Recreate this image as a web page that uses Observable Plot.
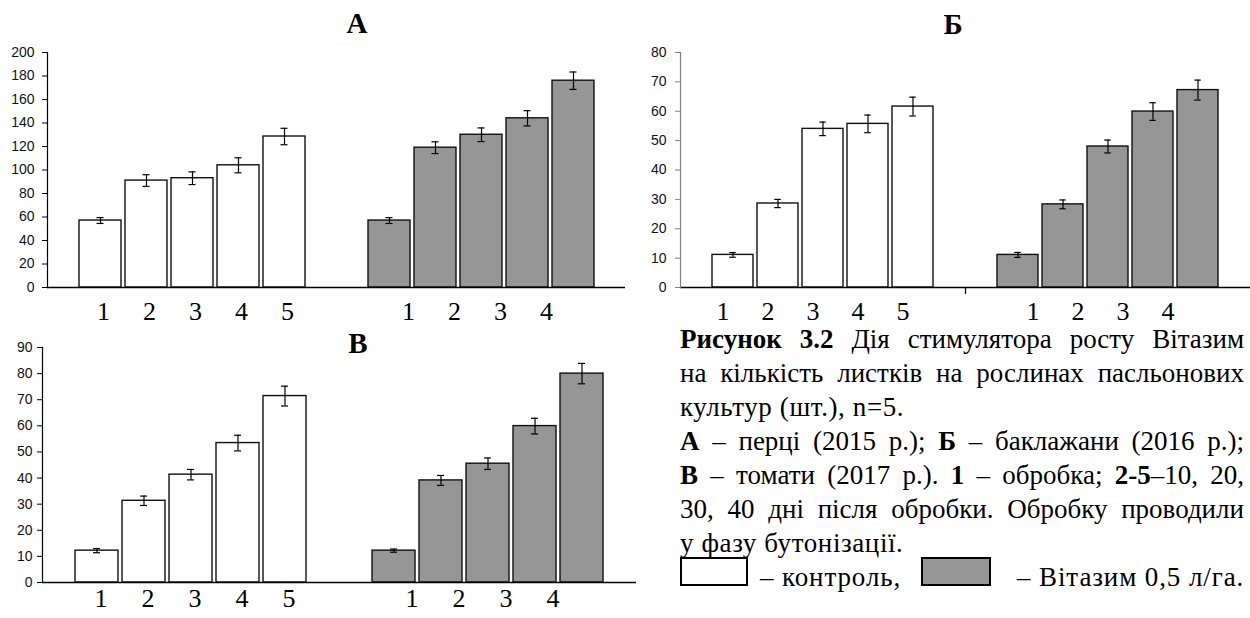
<!DOCTYPE html>
<html>
<head>
<meta charset="utf-8">
<script src="https://cdn.jsdelivr.net/npm/d3@7"></script>
<script src="https://cdn.jsdelivr.net/npm/@observablehq/plot@0.6"></script>
<style>
  html, body { margin: 0; padding: 0; background: #fff; }
  #root { position: relative; width: 1250px; height: 618px; overflow: hidden; background: #fff; }
  .panel { position: absolute; }
  .ttl { position: absolute; font-family: "Liberation Serif", "Times New Roman", serif; font-weight: bold;
         font-size: 29px; line-height: 1; transform: translate(-50%, -50%); color: #000; z-index: 5; }
  #caption { position: absolute; left: 680px; top: 322px; width: 564px; font-family: "Liberation Serif", "Times New Roman", serif;
             font-size: 27px; line-height: 34px; color: #000; z-index: 5; }
  #caption .j { text-align: justify; text-align-last: justify; white-space: nowrap; }
  #caption .l { white-space: nowrap; letter-spacing: 0.6px; }
  .leg { position: absolute; font-family: "Liberation Serif", "Times New Roman", serif; font-size: 27px; line-height: 34px;
         white-space: nowrap; color: #000; z-index: 5; letter-spacing: 0.9px; }
  .box { position: absolute; box-sizing: border-box; border: 2px solid #000; z-index: 5; }
</style>
</head>
<body>
<div id="root">
  <div id="pA" class="panel" style="left:0;top:0;"></div>
  <div id="pB" class="panel" style="left:640px;top:0;"></div>
  <div id="pV" class="panel" style="left:0;top:300px;"></div>
  <div class="ttl" style="left:357px;top:23px;">А</div>
  <div class="ttl" style="left:953px;top:24px;">Б</div>
  <div class="ttl" style="left:358px;top:343px;">В</div>
  <div id="caption">
    <div class="j"><b>Рисунок 3.2</b> Дія стимулятора росту Вітазим</div>
    <div class="j">на кількість листків на рослинах пасльонових</div>
    <div class="l">культур (шт.), n=5.</div>
    <div class="j"><b>А</b> – перці (2015 р.); <b>Б</b> – баклажани (2016 р.);</div>
    <div class="j"><b>В</b> – томати (2017 р.). <b>1</b> – обробка; <b>2-5</b>–10, 20,</div>
    <div class="j">30, 40 дні після обробки. Обробку проводили</div>
    <div class="l">у фазу бутонізації.</div>
  </div>
  <div class="box" style="left:680px;top:557px;width:68px;height:29px;background:#fff;"></div>
  <div class="leg" style="left:760px;top:560px;">– контроль,</div>
  <div class="box" style="left:921px;top:557px;width:70px;height:29px;background:#969696;"></div>
  <div class="leg" style="left:1017px;top:560px;">– Вітазим 0,5 л/га.</div>
</div>
<script>
// ---------------- data ----------------
const days = ["1", "2", "3", "4", "5"];
const groups = ["контроль", "Вітазим 0,5 л/га"];

// А – перці (2015 р.)
const pepperControl     = [57, 91, 93, 104, 128.5];
const pepperControlErr  = [2.5, 5, 5.4, 6.4, 7];
const pepperTreated     = [57, 119, 130, 144, 176];
const pepperTreatedErr  = [2.5, 5, 5.8, 6.5, 7.4];

// Б – баклажани (2016 р.)
const eggplantControl    = [11.1, 28.6, 54.0, 55.7, 61.6];
const eggplantControlErr = [0.8, 1.4, 2.3, 3.0, 3.2];
const eggplantTreated    = [11.1, 28.3, 48.0, 59.9, 67.2];
const eggplantTreatedErr = [0.85, 1.5, 2.2, 3.0, 3.4];

// В – томати (2017 р.)
const tomatoControl    = [12.2, 31.3, 41.3, 53.4, 71.4];
const tomatoControlErr = [0.8, 1.8, 2.0, 3.0, 3.8];
const tomatoTreated    = [12.2, 39.1, 45.5, 59.9, 80.0];
const tomatoTreatedErr = [0.6, 1.9, 2.2, 3.0, 3.9];

// tick labels
const ticksA = [0, 20, 40, 60, 80, 100, 120, 140, 160, 180, 200];
const ticksB = [0, 10, 20, 30, 40, 50, 60, 70, 80];
const ticksV = [0, 10, 20, 30, 40, 50, 60, 70, 80, 90];
const labelsControl = ["1", "2", "3", "4", "5"];
const labelsTreated = ["1", "2", "3", "4"];

// ---------------- build ----------------
function rows(ctrl, ctrlErr, trt, trtErr) {
  return [
    ...days.map((d, i) => ({group: groups[0], day: d, value: ctrl[i], err: ctrlErr[i]})),
    ...days.map((d, i) => ({group: groups[1], day: d, value: trt[i], err: trtErr[i]}))
  ];
}

function panel(o) {
  const data = rows(...o.series);
  const ctrlLabels = labelsControl.map(l => ({group: groups[0], day: l}));
  const trtLabels = labelsTreated.map(l => ({group: groups[1], day: l}));
  const capInset = (o.bw - 7) / 2;
  const serif = "'Liberation Serif', 'Times New Roman', serif";
  const marks = [
    Plot.barY(data, {fx: "group", x: "day", y: "value", fill: "group", stroke: "#111", strokeWidth: 1.4}),
    Plot.ruleX(data, {fx: "group", x: "day", y1: d => d.value - d.err, y2: d => d.value + d.err, stroke: "#000", strokeWidth: 1.2}),
    Plot.tickY(data, {fx: "group", x: "day", y: d => d.value - d.err, insetLeft: capInset, insetRight: capInset, stroke: "#000", strokeWidth: 1.2}),
    Plot.tickY(data, {fx: "group", x: "day", y: d => d.value + d.err, insetLeft: capInset, insetRight: capInset, stroke: "#000", strokeWidth: 1.2}),
    Plot.ruleY([0], {stroke: "#000", strokeWidth: 1.5}),
    Plot.frame({anchor: "left", facetAnchor: "left", stroke: o.axisColor, strokeWidth: 1.2}),
    Plot.axisY({ticks: o.ticks, tickSize: 5, tickPadding: o.tickPadding, label: null, stroke: o.axisColor,
                fill: "#111", fontSize: 14, tickFormat: d => String(d)}),
    Plot.text(ctrlLabels, {fx: "group", x: "day", text: "day", frameAnchor: "bottom", dy: o.labelDy, dx: o.ctrlDx,
                           fontFamily: serif, fontSize: 26, fill: "#000"}),
    Plot.text(trtLabels, {fx: "group", x: "day", text: "day", frameAnchor: "bottom", dy: o.labelDy, dx: o.trtDx,
                          fontFamily: serif, fontSize: 26, fill: "#000"})
  ];
  if (o.boundaryTick) {
    marks.push(Plot.frame({anchor: "left", facetAnchor: "right", insetTop: o.height - o.margins.marginTop - o.margins.marginBottom,
                           insetBottom: -6, stroke: "#000", strokeWidth: 1.2}));
  }
  return Plot.plot({
    width: o.width,
    height: o.height,
    ...o.margins,
    style: {background: "transparent", fontFamily: "'Liberation Sans', Arial, sans-serif", fontSize: "14px", color: "#000", overflow: "visible"},
    fx: {domain: groups, padding: 0, axis: null},
    x: {domain: days, paddingInner: 0.09, paddingOuter: 0.67, axis: null},
    y: {domain: [0, o.yMax]},
    color: {domain: groups, range: ["#ffffff", "#969696"]},
    marks
  });
}

document.getElementById("pA").appendChild(panel({
  series: [pepperControl, pepperControlErr, pepperTreated, pepperTreatedErr],
  yMax: 200, ticks: ticksA, width: 640, height: 330,
  margins: {marginLeft: 46, marginRight: 15, marginTop: 52, marginBottom: 43},
  bw: 42, tickPadding: 8, axisColor: "#000", ctrlDx: 3, trtDx: 19, labelDy: 32
}));

document.getElementById("pB").appendChild(panel({
  series: [eggplantControl, eggplantControlErr, eggplantTreated, eggplantTreatedErr],
  yMax: 80, ticks: ticksB, width: 610, height: 330,
  margins: {marginLeft: 40, marginRight: 0, marginTop: 52, marginBottom: 43},
  bw: 41.5, tickPadding: 9, axisColor: "#808080", ctrlDx: -10, trtDx: 15, labelDy: 32, boundaryTick: true
}));

document.getElementById("pV").appendChild(panel({
  series: [tomatoControl, tomatoControlErr, tomatoTreated, tomatoTreatedErr],
  yMax: 90, ticks: ticksV, width: 640, height: 318,
  margins: {marginLeft: 42, marginRight: 4, marginTop: 47, marginBottom: 36},
  bw: 43, tickPadding: 5, axisColor: "#000", ctrlDx: 4, trtDx: 18, labelDy: 24
}));
</script>
</body>
</html>
